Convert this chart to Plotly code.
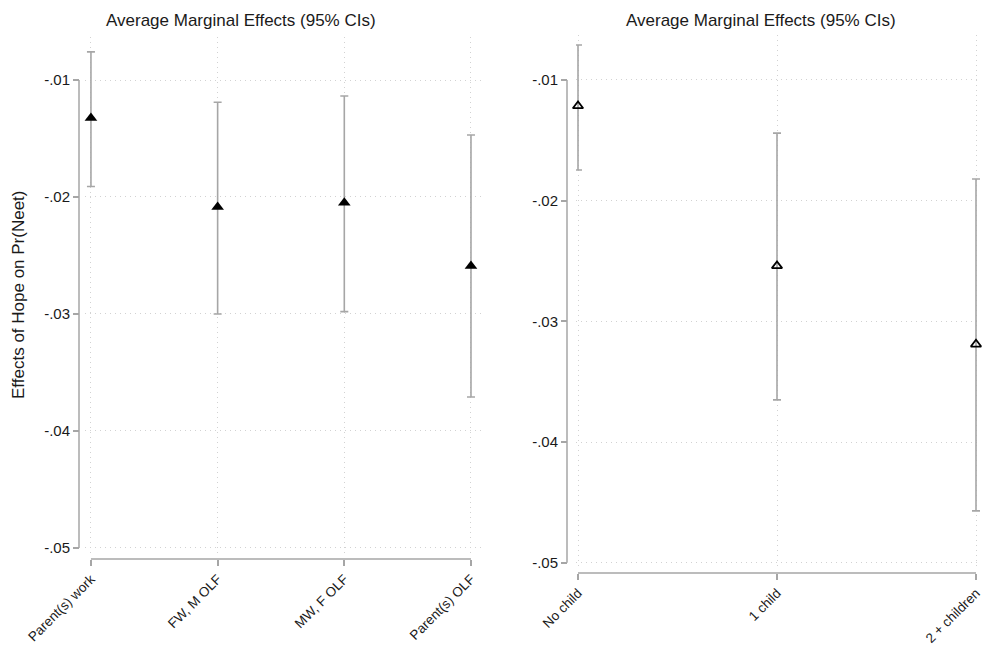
import plotly.graph_objects as go

# ---- data ----
left_cats = ["Parent(s) work", "FW, M OLF", "MW, F OLF", "Parent(s) OLF"]
left_est = [-0.01325, -0.02085, -0.0205, -0.0259]
left_lo = [-0.0191, -0.0300, -0.0298, -0.0371]
left_hi = [-0.0076, -0.0119, -0.01137, -0.0147]

right_cats = ["No child", "1 child", "2 + children"]
right_est = [-0.01215, -0.0254, -0.0319]
right_lo = [-0.01746, -0.0365, -0.0457]
right_hi = [-0.0071, -0.0144, -0.0182]

y_ticks = [-0.01, -0.02, -0.03, -0.04, -0.05]
y_ticklabels = ["-.01", "-.02", "-.03", "-.04", "-.05"]

panel_title = "Average Marginal Effects (95% CIs)"
y_title = "Effects of Hope on Pr(Neet)"

# page body has an 8px margin; figure sized so the page fits the window
OFF = 8
W, H = 995 - OFF, 648 - OFF
def px(x):
    return (x - OFF) / W
def py(y):
    return 1 - (y - OFF) / H

GREY = "#a6a6a6"
GRID = "#d2d2d2"
TXT = "#1a1a1a"
FONT = "Liberation Sans, Arial, sans-serif"

fig = go.Figure()

lx = list(range(len(left_cats)))
fig.add_trace(go.Scatter(
    x=lx, y=left_est, mode="markers",
    marker=dict(symbol="triangle-up", size=11, color="black"),
    error_y=dict(type="data", symmetric=False,
                 array=[h - e for h, e in zip(left_hi, left_est)],
                 arrayminus=[e - l for l, e in zip(left_lo, left_est)],
                 color=GREY, thickness=1.6, width=4),
    xaxis="x", yaxis="y", showlegend=False, cliponaxis=False))

rx = list(range(len(right_cats)))
fig.add_trace(go.Scatter(
    x=rx, y=right_est, mode="markers",
    marker=dict(symbol="triangle-up-open", size=9, color="black",
                line=dict(width=1.8, color="black")),
    error_y=dict(type="data", symmetric=False,
                 array=[h - e for h, e in zip(right_hi, right_est)],
                 arrayminus=[e - l for l, e in zip(right_lo, right_est)],
                 color=GREY, thickness=1.6, width=4),
    xaxis="x2", yaxis="y2", showlegend=False, cliponaxis=False))

ytickfont = dict(family=FONT, size=15, color=TXT)
xtickfont = dict(family=FONT, size=13.5, color=TXT)

common_x = dict(tickmode="array", tickangle=-45, tickfont=xtickfont,
                showgrid=True, gridcolor=GRID, griddash="1px,4px", gridwidth=1,
                zeroline=False, showline=False, ticks="outside",
                ticklen=6, tickcolor=GREY, tickwidth=1.5, anchor="free",
                automargin=False, ticklabeloverflow="allow")
common_y = dict(tickmode="array", tickvals=y_ticks, ticktext=y_ticklabels,
                tickfont=ytickfont, showgrid=True, gridcolor=GRID,
                griddash="1px,4px", gridwidth=1, zeroline=False, showline=False,
                ticks="outside", ticklen=6, tickcolor=GREY, tickwidth=1.5,
                anchor="free", automargin=False)

fig.update_layout(
    width=W, height=H,
    margin=dict(l=0, r=0, t=0, b=0, pad=0, autoexpand=False),
    paper_bgcolor="white", plot_bgcolor="white",
    font=dict(family=FONT, color=TXT),
    xaxis=dict(common_x, domain=[px(85), px(482)], range=[-0.047, 3.087],
               tickvals=lx, ticktext=left_cats, position=py(559)),
    yaxis=dict(common_y, domain=[py(553), py(37)], range=[-0.05043, -0.006325],
               position=px(79)),
    xaxis2=dict(common_x, domain=[px(576), px(980)], range=[-0.01005, 2.0201],
                tickvals=rx, ticktext=right_cats, position=py(573)),
    yaxis2=dict(common_y, domain=[py(570), py(35)], range=[-0.0506, -0.006272],
                position=px(567)),
)

# Stata-style axis lines spanning only the tick range
shapes = [
    dict(type="line", xref="paper", yref="y", x0=px(79), x1=px(79),
         y0=y_ticks[0], y1=y_ticks[-1], line=dict(color=GREY, width=1.5)),
    dict(type="line", xref="x", yref="paper", x0=lx[0], x1=lx[-1],
         y0=py(559), y1=py(559), line=dict(color=GREY, width=1.5)),
    dict(type="line", xref="paper", yref="y2", x0=px(567), x1=px(567),
         y0=y_ticks[0], y1=y_ticks[-1], line=dict(color=GREY, width=1.5)),
    dict(type="line", xref="x2", yref="paper", x0=rx[0], x1=rx[-1],
         y0=py(573), y1=py(573), line=dict(color=GREY, width=1.5)),
]
fig.update_layout(shapes=shapes)

annotations = [
    dict(text=panel_title, x=px(241), y=py(21), xref="paper", yref="paper",
         showarrow=False, font=dict(family=FONT, size=17, color=TXT),
         xanchor="center", yanchor="middle"),
    dict(text=panel_title, x=px(761), y=py(21), xref="paper", yref="paper",
         showarrow=False, font=dict(family=FONT, size=17, color=TXT),
         xanchor="center", yanchor="middle"),
    dict(text=y_title, x=px(18), y=py(295), xref="paper", yref="paper",
         showarrow=False, textangle=-90,
         font=dict(family=FONT, size=17, color=TXT),
         xanchor="center", yanchor="middle"),
]
fig.update_layout(annotations=annotations)

fig.write_html("out.html")
